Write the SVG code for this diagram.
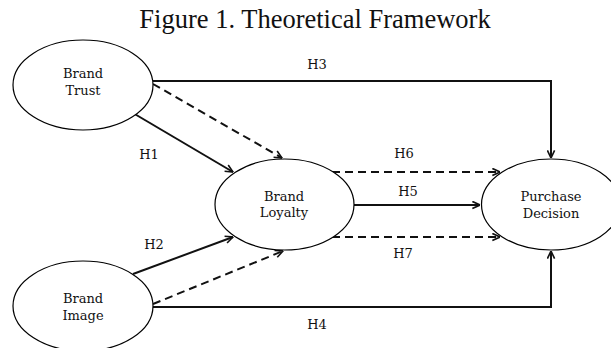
<svg xmlns="http://www.w3.org/2000/svg" width="611" height="348" viewBox="0 0 611 348">
<style>
.node ellipse{fill:#fff;stroke:#000;stroke-width:1.2}
.node text,.lbl{font-family:"DejaVu Serif","Liberation Serif",serif;font-size:13px;fill:#111;text-anchor:middle}
.title{font-family:"Liberation Serif","Times New Roman",serif;font-size:26.5px;fill:#111;text-anchor:middle}
.solid{fill:none;stroke:#111;stroke-width:2;marker-end:url(#arr)}
.dash{fill:none;stroke:#111;stroke-width:2;stroke-dasharray:8 5;marker-end:url(#arr)}
</style>
<defs>
<marker id="arr" viewBox="0 0 10 10" refX="9.5" refY="5" markerWidth="9" markerHeight="9" markerUnits="userSpaceOnUse" orient="auto">
<path d="M1,1 L9.5,5 L1,9" fill="none" stroke="#111" stroke-width="1.8"/>
</marker>
</defs>
<rect width="611" height="348" fill="#fff"/>
<text class="title" x="315" y="28">Figure 1. Theoretical Framework</text>
<g id="connectors">
<polyline class="solid" points="153,81 551,81 551,158"/>
<polyline class="solid" points="153,307 551,307 551,251"/>
<line class="solid" x1="133" y1="113" x2="233" y2="172"/>
<line class="dash" x1="153" y1="84" x2="282" y2="158"/>
<line class="solid" x1="133" y1="274" x2="233" y2="237"/>
<line class="dash" x1="153" y1="304" x2="283" y2="251"/>
<line class="solid" x1="354" y1="205" x2="480" y2="205"/>
<line class="dash" x1="332" y1="172" x2="500" y2="172"/>
<line class="dash" x1="332" y1="237" x2="500" y2="237"/>
<text class="lbl" x="317" y="69">H3</text>
<text class="lbl" x="149" y="159">H1</text>
<text class="lbl" x="154" y="249">H2</text>
<text class="lbl" x="404" y="158">H6</text>
<text class="lbl" x="408" y="196">H5</text>
<text class="lbl" x="403" y="258">H7</text>
<text class="lbl" x="317" y="329">H4</text>
</g>
<g id="brand-trust" class="node">
<ellipse cx="83" cy="85" rx="70" ry="45"/>
<text x="83" y="78">Brand</text>
<text x="83" y="95">Trust</text>
</g>
<g id="brand-image" class="node">
<ellipse cx="83" cy="306" rx="70" ry="45"/>
<text x="83" y="303">Brand</text>
<text x="83" y="320">Image</text>
</g>
<g id="brand-loyalty" class="node">
<ellipse cx="284.5" cy="204.5" rx="69.5" ry="45.5"/>
<text x="284" y="201">Brand</text>
<text x="284" y="217">Loyalty</text>
</g>
<g id="purchase-decision" class="node">
<ellipse cx="551" cy="204.5" rx="69.5" ry="45.5"/>
<text x="551" y="201">Purchase</text>
<text x="551" y="218">Decision</text>
</g>
</svg>
